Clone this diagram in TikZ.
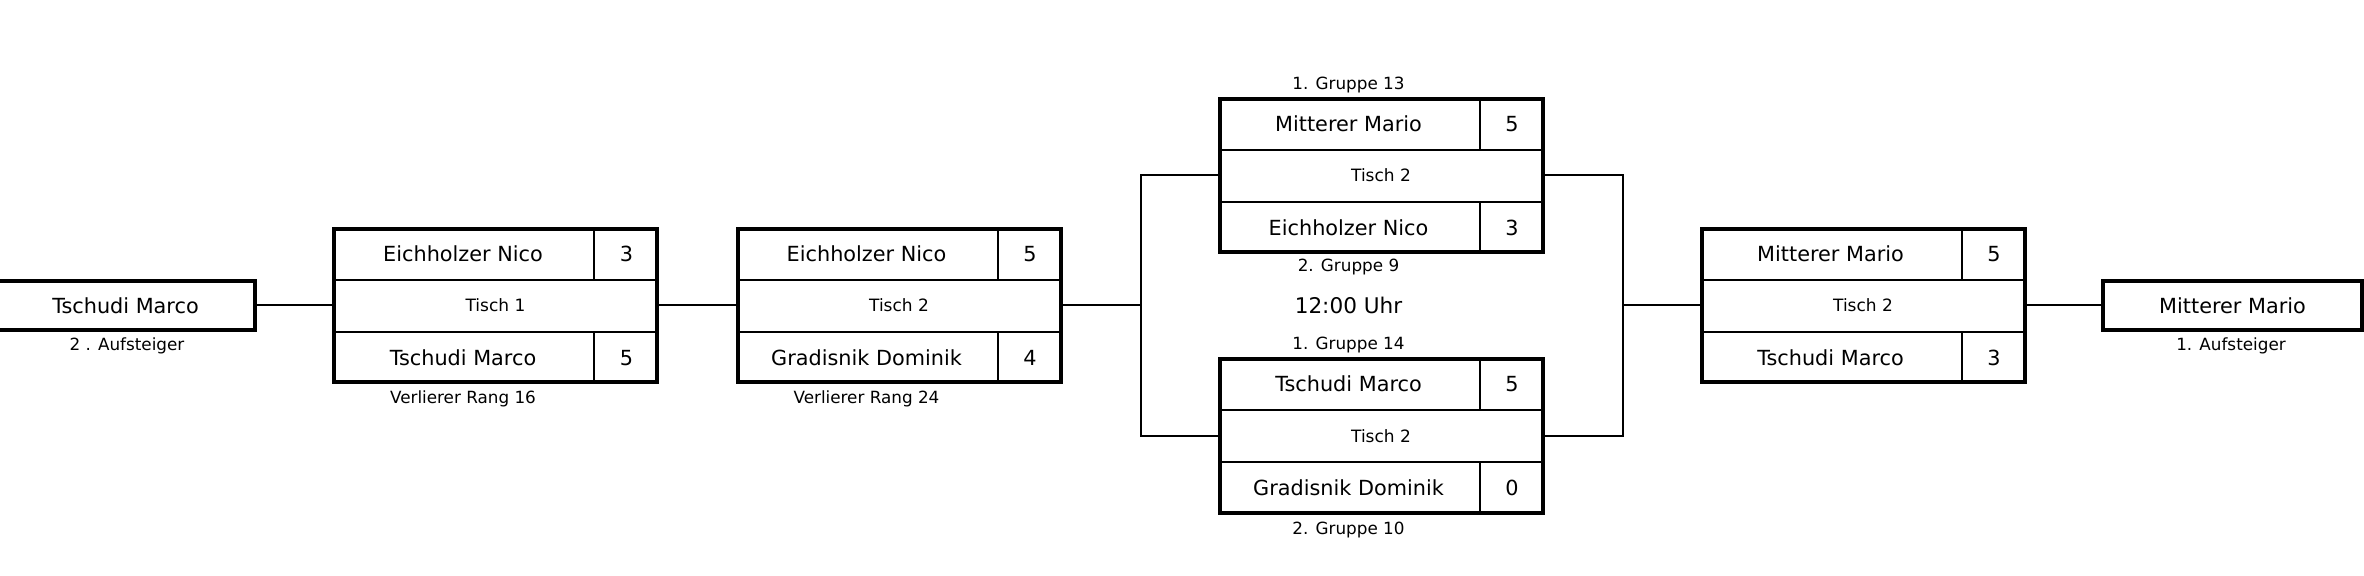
\documentclass[tikz,border=0pt]{standalone}
\usepackage{fontspec}
\setmainfont{DejaVu Sans}
\tikzset{
  mbox/.style={draw, line width=2pt, minimum width=161.5pt, minimum height=76.5pt, inner sep=0pt},
  sbox/.style={draw, line width=2pt, minimum width=129.5pt, minimum height=24.5pt, inner sep=0pt},
  pname/.style={font=\fontsize{10.4}{12}\selectfont, inner sep=0pt, anchor=base},
  tisch/.style={font=\fontsize{8.5}{10}\selectfont, inner sep=0pt, anchor=base},
  lbl/.style={font=\fontsize{8.4}{10}\selectfont, inner sep=0pt, anchor=base},
  big/.style={font=\fontsize{10.8}{13}\selectfont, inner sep=0pt, anchor=base},
  thinline/.style={line width=1pt},
  conn/.style={line width=1pt},
}
% #1 id, #2 cx, #3 cy, #4 player 1, #5 score 1, #6 table, #7 player 2, #8 score 2
\newcommand\matchbox[8]{%
  \node[mbox] (#1) at (#2,#3) {};
  \draw[thinline] ({#2-161.5},{#3-25.5}) -- ({#2+161.5},{#3-25.5});
  \draw[thinline] ({#2-161.5},{#3+26.5}) -- ({#2+161.5},{#3+26.5});
  \draw[thinline] ({#2+98.5},{#3-76.5}) -- ({#2+98.5},{#3-25.5});
  \draw[thinline] ({#2+98.5},{#3+26.5}) -- ({#2+98.5},{#3+76.5});
  \node[pname] (#1-p1) at ({#2-32.5},{#3-52+7.6}) {#4};
  \node[pname] (#1-s1) at ({#2+131},{#3-52+7.6}) {#5};
  \node[tisch] (#1-t)  at ({#2},{#3+6.2}) {#6};
  \node[pname] (#1-p2) at ({#2-32.5},{#3+52+7.6}) {#7};
  \node[pname] (#1-s2) at ({#2+131},{#3+52+7.6}) {#8};
}
\begin{document}
\begin{tikzpicture}[x=0.5pt,y=-0.5pt]
\useasboundingbox (0,0) rectangle (2364,576);

% entry and exit boxes
\node[sbox, font=\fontsize{10.4}{12}\selectfont] (L) at (125.5,305.5) {Tschudi Marco};
\node[lbl] (Llbl) at (127,350.8) {2 . Aufsteiger};
\node[sbox, font=\fontsize{10.4}{12}\selectfont] (R) at (2232.5,305.5) {Mitterer Mario};
\node[lbl] (Rlbl) at (2231,350.8) {1. Aufsteiger};

% matches
\matchbox{m1}{495.5}{305.5}{Eichholzer Nico}{3}{Tisch 1}{Tschudi Marco}{5}
\node[lbl] (m1lbl) at (463,404) {Verlierer Rang 16};

\matchbox{m2}{899}{305.5}{Eichholzer Nico}{5}{Tisch 2}{Gradisnik Dominik}{4}
\node[lbl] (m2lbl) at (866.5,404) {Verlierer Rang 24};

\matchbox{sf1}{1381}{175.5}{Mitterer Mario}{5}{Tisch 2}{Eichholzer Nico}{3}
\node[lbl] (sf1top) at (1348.5,89.5) {1. Gruppe 13};
\node[lbl] (sf1bot) at (1348.5,272) {2. Gruppe 9};

\node[big] (time) at (1348.5,313.5) {12:00 Uhr};

\matchbox{sf2}{1381}{436}{Tschudi Marco}{5}{Tisch 2}{Gradisnik Dominik}{0}
\node[lbl] (sf2top) at (1348.5,350) {1. Gruppe 14};
\node[lbl] (sf2bot) at (1348.5,534.5) {2. Gruppe 10};

\matchbox{fin}{1863}{305.5}{Mitterer Mario}{5}{Tisch 2}{Tschudi Marco}{3}

% connectors
\coordinate (b1) at (1141,305.5);
\coordinate (b2) at (1623,305.5);
\draw[conn] (L.east) -- (m1.west);
\draw[conn] (m1.east) -- (m2.west);
\draw[conn] (m2.east) -- (b1);
\draw[conn] (sf1.west) -| (b1) |- (sf2.west);
\draw[conn] (sf1.east) -| (b2) |- (sf2.east);
\draw[conn] (b2) -- (fin.west);
\draw[conn] (fin.east) -- (R.west);
\end{tikzpicture}
\end{document}
